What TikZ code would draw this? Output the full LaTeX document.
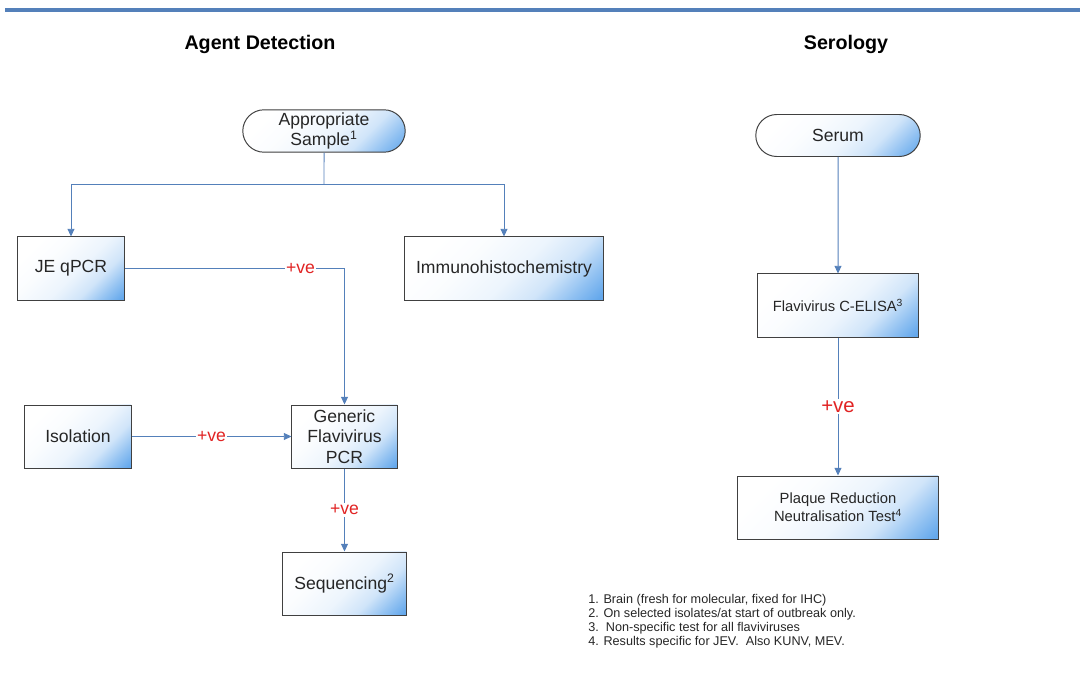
\documentclass[tikz,border=0pt]{standalone}
\usepackage{fontspec}
\setmainfont{Liberation Sans}
\usepackage{tikz}
\usetikzlibrary{arrows.meta,shapes.misc}
\definecolor{flowblue}{RGB}{84,128,186}
\definecolor{boxblue}{RGB}{100,168,236}
\definecolor{posred}{RGB}{225,35,35}
\pgfdeclareverticalshading{boxshade}{100bp}{color(0bp)=(boxblue); color(16bp)=(boxblue); color(24bp)=(boxblue!70); color(34bp)=(boxblue!30); color(46bp)=(boxblue!12); color(62bp)=(boxblue!3); color(75bp)=(white); color(100bp)=(white)}

\begin{document}
\begin{tikzpicture}[x=0.025cm, y=-0.025cm,
    block/.style={rectangle, draw=black!75, line width=0.7pt, shading=boxshade, shading angle=45, text=black!85, align=center, minimum height=1.575cm, inner sep=2pt, font=\fontsize{12.5}{14.5}\selectfont},
    terminal/.style={block, rounded rectangle, minimum height=1.05cm},
    title/.style={font=\fontsize{14}{16}\bfseries\selectfont},
    poslabel/.style={fill=white, text=posred, inner sep=1pt, font=\fontsize{12.5}{14}\selectfont},
    arrow/.style={-{Triangle[length=5.5pt,width=5pt]}, draw=flowblue, line width=0.7pt},
    line/.style={draw=flowblue, line width=0.7pt}
]
    \useasboundingbox (0,0) rectangle (1080,676);
    \coordinate (ruleL) at (5,10);
    \coordinate (ruleR) at (1080,10);
    \draw[flowblue, line width=2.2pt] (ruleL) -- (ruleR);

    \node[title] (agent) at (260,44) {Agent Detection};
    \node[title] (sero) at (846,44) {Serology};

    % agent detection
    \node[terminal, minimum width=4.2cm] (sample) at (324,131) {Appropriate\\Sample\textsuperscript{1}};
    \coordinate (split) at (324,184);
    \node[block, minimum width=2.65cm] (jeqpcr) at (71,268.5) {JE qPCR};
    \node[block, minimum width=4.95cm] (ihc) at (504,268.5) {Immunohistochemistry};
    \node[block, minimum width=2.65cm] (isolation) at (78,436.5) {Isolation};
    \node[block, minimum width=2.625cm] (generic) at (344.5,436.5) {Generic\\Flavivirus\\PCR};
    \node[block, minimum width=3.1cm] (seq) at (344.5,583.5) {Sequencing\textsuperscript{2}};

    % serology
    \node[terminal, minimum width=4.25cm] (serum) at (838,135.5) {Serum};
    \node[block, minimum width=4cm, font=\fontsize{10.5}{13}\selectfont] (elisa) at (838,305.5) {Flavivirus C-ELISA\textsuperscript{3}};
    \node[block, minimum width=5cm, font=\fontsize{10.5}{13}\selectfont] (prnt) at (838,507.5) {Plaque Reduction\\Neutralisation Test\textsuperscript{4}};

    \node[anchor=north west, align=left, text=black!85, inner sep=0pt, font=\fontsize{9}{10}\selectfont] (notes) at (588,594) {1. Brain (fresh for molecular, fixed for IHC)\\2. On selected isolates/at start of outbreak only.\\3.\ \ Non-specific test for all flaviviruses\\4. Results specific for JEV.\ \ Also KUNV, MEV.};

    \draw[line] (sample) -- (split);
    \draw[arrow] (split) -| (jeqpcr);
    \draw[arrow] (split) -| (ihc);
    \draw[arrow] (jeqpcr) -| node[poslabel, pos=0.4] {+ve} (generic);
    \draw[arrow] (isolation) -- node[poslabel] {+ve} (generic);
    \draw[arrow] (generic) -- node[poslabel] {+ve} (seq);
    \draw[arrow] (serum) -- (elisa);
    \draw[arrow] (elisa) -- node[poslabel, font=\fontsize{14.5}{16}\selectfont] {+ve} (prnt);
\end{tikzpicture}
\end{document}
